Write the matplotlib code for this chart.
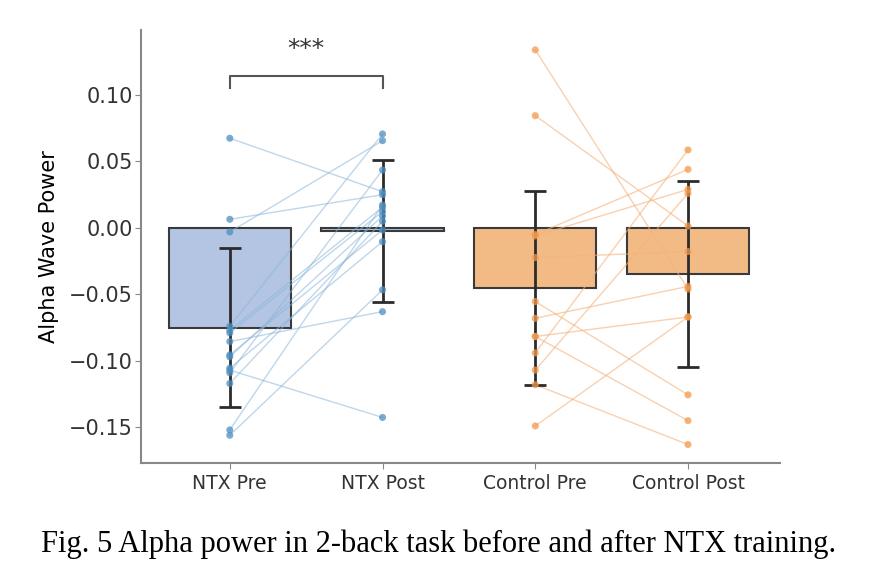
import matplotlib
matplotlib.use("Agg")
import matplotlib.pyplot as plt
import numpy as np

categories = ["NTX Pre", "NTX Post", "Control Pre", "Control Post"]
bar_means = [-0.075, -0.0025, -0.045, -0.035]
bar_errors = [0.060, 0.0535, 0.073, 0.070]

ntx_pre = [0.0675, 0.0065, -0.003, -0.074, -0.077, -0.079, -0.0855, -0.0955,
           -0.097, -0.1055, -0.107, -0.109, -0.117, -0.152, -0.156]
ntx_post = [0.0273, 0.025, 0.0657, 0.0707, 0.0156, 0.0123, -0.063, -0.0015,
            0.009, -0.0103, -0.1426, 0.0436, 0.005, 0.0173, -0.0466]

ctrl_pre = [0.134, 0.0845, -0.005, -0.006, -0.0223, -0.0554, -0.068, -0.0817,
            -0.0817, -0.094, -0.107, -0.118, -0.149]
ctrl_post = [-0.046, 0.0015, 0.0441, 0.029, -0.0178, -0.1256, -0.044, -0.067,
             -0.145, 0.0587, 0.026, -0.163, -0.067]

blue_fill = "#b3c5e3"
blue_pt = "#4f8fc0"
orange_fill = "#f2bb86"
orange_pt = "#f39a4c"

fig = plt.figure(figsize=(8.77, 5.87), dpi=100)
ax = fig.add_axes([0.161, 0.211, 0.728, 0.738])

x = np.arange(len(categories))
fills = [blue_fill, blue_fill, orange_fill, orange_fill]
ax.bar(x, bar_means, width=0.8, color=fills, edgecolor="#3a3a3a", linewidth=1.5, zorder=1)

# paired lines
for a, b in zip(ntx_pre, ntx_post):
    ax.plot([0, 1], [a, b], color="#8ab6d9", alpha=0.55, lw=1.0, zorder=2)
for a, b in zip(ctrl_pre, ctrl_post):
    ax.plot([2, 3], [a, b], color="#f6b27a", alpha=0.6, lw=1.0, zorder=2)

ax.errorbar(x, bar_means, yerr=bar_errors, fmt="none", ecolor="#2b2b2b",
            elinewidth=2.0, capsize=8, capthick=2.0, zorder=3)

ax.scatter(np.zeros(len(ntx_pre)), ntx_pre, s=26, color=blue_pt, alpha=0.75, zorder=4, edgecolors="none")
ax.scatter(np.ones(len(ntx_post)), ntx_post, s=26, color=blue_pt, alpha=0.75, zorder=4, edgecolors="none")
ax.scatter(np.full(len(ctrl_pre), 2), ctrl_pre, s=26, color=orange_pt, alpha=0.75, zorder=4, edgecolors="none")
ax.scatter(np.full(len(ctrl_post), 3), ctrl_post, s=26, color=orange_pt, alpha=0.75, zorder=4, edgecolors="none")

# significance bracket
ax.plot([0, 0, 1, 1], [0.105, 0.114, 0.114, 0.105], color="#555555", lw=1.5)
ax.text(0.5, 0.126, "***", ha="center", va="bottom", fontsize=18, color="#333333",
        family="DejaVu Sans")

ax.set_xlim(-0.58, 3.6)
ax.set_ylim(-0.177, 0.149)
ax.set_xticks(x)
ax.set_xticklabels(categories, fontsize=13.5)
ax.set_yticks([0.10, 0.05, 0.00, -0.05, -0.10, -0.15])
ax.set_yticklabels(["0.10", "0.05", "0.00", "\u22120.05", "\u22120.10", "\u22120.15"], fontsize=15)
ax.set_ylabel("Alpha Wave Power", fontsize=15, labelpad=7)
for s in ["top", "right"]:
    ax.spines[s].set_visible(False)
for s in ["left", "bottom"]:
    ax.spines[s].set_color("#888888")
    ax.spines[s].set_linewidth(1.5)
ax.tick_params(colors="#888888", labelcolor="#333333", length=4)
ax.tick_params(axis="y", pad=2)

fig.text(0.5, 0.072, "Fig. 5 Alpha power in 2-back task before and after NTX training.",
         ha="center", va="center", fontsize=22, family="Liberation Serif")

fig.savefig("out.png", dpi=100)
